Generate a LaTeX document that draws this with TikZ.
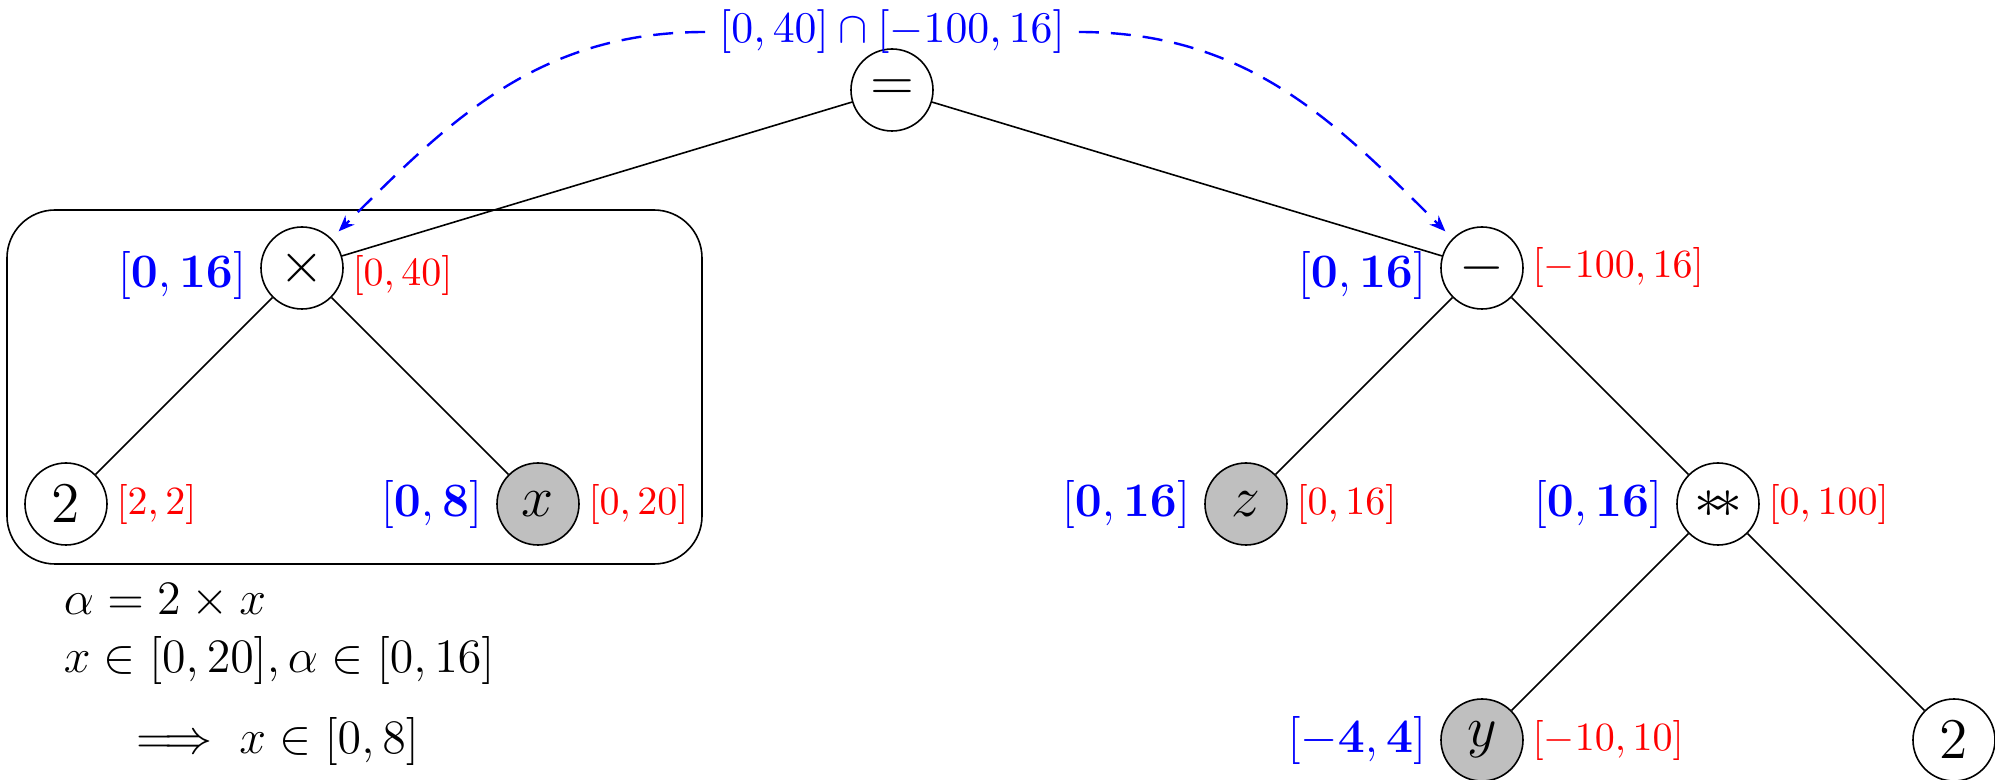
\documentclass[tikz,border=0pt]{standalone}
\usepackage{amsmath}
\usetikzlibrary{arrows.meta}
\begin{document}
\begin{tikzpicture}[x=0.25pt,y=-0.25pt,
  opnode/.style={circle,draw,line width=0.4pt,minimum size=20.5pt,inner sep=0pt,font=\fontsize{13.5}{16}\selectfont},
  varnode/.style={opnode,fill=gray!50},
  bnd/.style={text=blue,font=\fontsize{11.6}{14}\selectfont},
  rng/.style={text=red,inner sep=2pt,font=\fontsize{10.3}{12}\selectfont},
  edge/.style={line width=0.4pt},
  prop/.style={blue,line width=0.6pt,dash pattern=on 5pt off 3pt,-{Stealth[length=4pt,width=3.2pt]},shorten >=2.5pt},
  note/.style={anchor=base west,font=\fontsize{12.5}{15}\selectfont,inner sep=0pt},
  notewide/.style={note,font=\fontsize{13}{15.5}\selectfont}
]
\useasboundingbox (0,0) rectangle (1995,780);
% group box
\draw[line width=0.4pt,rounded corners=12pt] (7,210) rectangle (702,564);
% tree nodes
\node[opnode] (eq) at (892,90) {$=$};
\node[opnode] (times) at (302,268) {$\times$};
\node[opnode] (minus) at (1482,268) {$-$};
\node[opnode] (two1) at (66,504) {$2$};
\node[varnode] (x) at (538,504) {$x$};
\node[varnode] (z) at (1246,504) {$z$};
\node[opnode] (pow) at (1718,504) {$\ast\!\ast$};
\node[varnode] (y) at (1482,740) {$y$};
\node[opnode] (two2) at (1954,740) {$2$};
% edges
\draw[edge] (eq) -- (times);
\draw[edge] (eq) -- (minus);
\draw[edge] (times) -- (two1);
\draw[edge] (times) -- (x);
\draw[edge] (minus) -- (z);
\draw[edge] (minus) -- (pow);
\draw[edge] (pow) -- (y);
\draw[edge] (pow) -- (two2);
% labels
\node[bnd,anchor=east,yshift=-2pt] (bt) at (times.west) {$[\mathbf{0,16}]$};
\node[rng,anchor=west,yshift=-2pt] (rt) at (times.east) {$[0,40]$};
\node[bnd,anchor=east,yshift=-2pt] (bm) at (minus.west) {$[\mathbf{0,16}]$};
\node[rng,anchor=west] (rm) at (minus.east) {$[-100,16]$};
\node[rng,anchor=west] (r2) at (two1.east) {$[2,2]$};
\node[bnd,anchor=east] (bx) at (x.west) {$[\mathbf{0,8}]$};
\node[rng,anchor=west] (rx) at (x.east) {$[0,20]$};
\node[bnd,anchor=east] (bz) at (z.west) {$[\mathbf{0,16}]$};
\node[rng,anchor=west] (rz) at (z.east) {$[0,16]$};
\node[bnd,anchor=east] (bp) at (pow.west) {$[\mathbf{0,16}]$};
\node[rng,anchor=west] (rp) at (pow.east) {$[0,100]$};
\node[bnd,anchor=east] (by) at (y.west) {$[\mathbf{-4,4}]$};
\node[rng,anchor=west] (ry) at (y.east) {$[-10,10]$};
% top intersection label
\node[text=blue,font=\fontsize{10.5}{12.5}\selectfont] (top) at (892,32) {$[0,40]\cap[-100,16]$};
\draw[prop] (top.west) to[out=180,in=45] (times.45);
\draw[prop] (top.east) to[out=0,in=135] (minus.135);
% derivation
\node[note] (l1) at (63,614) {$\alpha = 2\times x$};
\node[notewide] (l2) at (63,672) {$x\in[0,20], \alpha\in[0,16]$};
\node[notewide] (l3) at (122,753) {$\implies x\in[0,8]$};
\end{tikzpicture}
\end{document}
